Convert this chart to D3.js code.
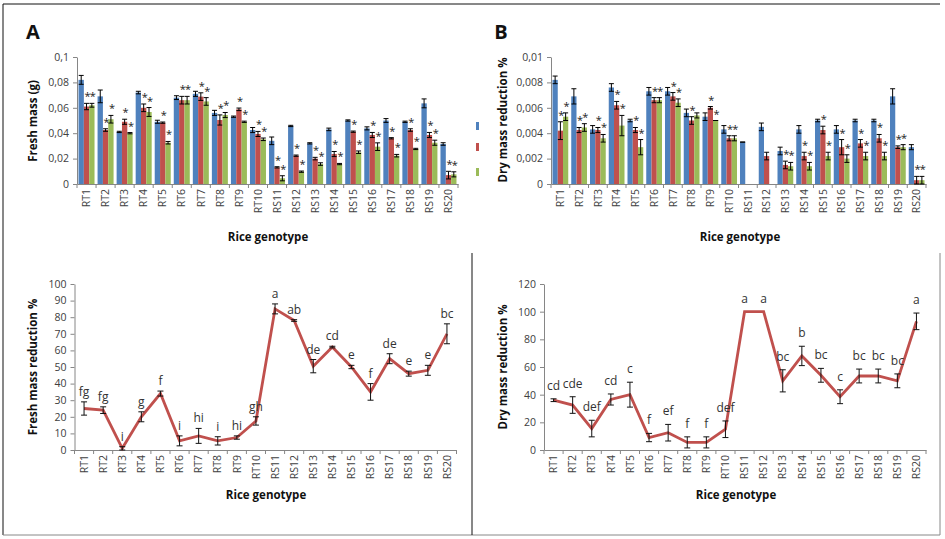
<!DOCTYPE html>
<html>
<head>
<meta charset="utf-8">
<script src="https://cdn.jsdelivr.net/npm/d3@7"></script>
<style>
  body { margin: 0; background: #fff; }
  svg { display: block; font-family: "Open Sans", sans-serif; }
</style>
</head>
<body>
<svg id="fig" width="945" height="539"></svg>
<script>
"use strict";

const genotypes = ["RT1","RT2","RT3","RT4","RT5","RT6","RT7","RT8","RT9","RT10",
                   "RS11","RS12","RS13","RS14","RS15","RS16","RS17","RS18","RS19","RS20"];

// panel A - fresh mass (g)
const freshBlue     = [0.082,0.069,0.041,0.072,0.049,0.068,0.071,0.056,0.053,0.0425,0.034,0.0457,0.032,0.043,0.050,0.0438,0.050,0.049,0.0635,0.0315];
const freshBlueErr  = [0.0035,0.005,0.0005,0.001,0.0012,0.0015,0.002,0.002,0.0005,0.002,0.003,0.0005,0.0005,0.001,0.0005,0.0012,0.0015,0.0005,0.0035,0.001];
const freshRed      = [0.061,0.0425,0.049,0.060,0.0483,0.066,0.0688,0.0504,0.0588,0.0394,0.0131,0.0223,0.020,0.0236,0.0412,0.0386,0.036,0.0425,0.0386,0.007];
const freshRedErr   = [0.0025,0.001,0.002,0.003,0.0005,0.003,0.003,0.004,0.001,0.002,0.0005,0.0005,0.001,0.002,0.0005,0.002,0.0005,0.001,0.002,0.003];
const freshGreen    = [0.062,0.051,0.040,0.0567,0.0325,0.066,0.065,0.0543,0.049,0.0352,0.0045,0.0097,0.0157,0.0157,0.025,0.0294,0.0223,0.0276,0.0325,0.0076];
const freshGreenErr = [0.0015,0.003,0.0005,0.0035,0.001,0.003,0.003,0.002,0.0005,0.001,0.002,0.0005,0.001,0.0005,0.001,0.003,0.001,0.0005,0.002,0.002];
const freshRedSig   = ["*","*","*","*","*","*","*","*","*","*","*","*","*","*","*","*","*","*","*","*"];
const freshGreenSig = ["*","*","*","*","*","*","*","*","*","*","*","*","*","*","*","*","*","*","*","*"];

// panel B - dry mass
const dryBlue     = [0.0082,0.0069,0.0043,0.0076,0.0050,0.0073,0.0073,0.0056,0.0053,0.0043,0.0033,0.0045,0.0026,0.0043,0.0050,0.0043,0.0050,0.0050,0.0069,0.0029];
const dryBlueErr  = [0.0003,0.0006,0.0003,0.0003,0.0001,0.0003,0.0003,0.0003,0.0003,0.0003,0,0.0003,0.0003,0.0003,0.0001,0.0003,0.0001,0.0001,0.0006,0.0002];
const dryRed      = [0.0042,0.00425,0.00425,0.0062,0.00425,0.0066,0.0069,0.0050,0.0060,0.0036,0,0.0022,0.0015,0.0022,0.00425,0.0029,0.0032,0.0036,0.0029,0.0003];
const dryRedErr   = [0.0007,0.0002,0.0002,0.0003,0.0002,0.0002,0.0003,0.0003,0.0001,0.0002,0,0.0003,0.0003,0.0003,0.0003,0.0006,0.0003,0.0003,0.0001,0.0003];
const dryGreen    = [0.0053,0.00445,0.0036,0.0046,0.0029,0.0066,0.0064,0.0054,0.0050,0.0036,0,0,0.0014,0.0014,0.0022,0.0020,0.0022,0.0022,0.0029,0.0003];
const dryGreenErr = [0.0003,0.0003,0.0003,0.0008,0.0006,0.0002,0.0003,0.0002,0,0.0002,0,0,0.0003,0.0003,0.0003,0.0003,0.0003,0.0003,0.0002,0.0003];
const dryRedSig   = ["*","*","*","*","*","*","*","*","*","*","","","*","*","*","*","*","*","*","*"];
const dryGreenSig = ["*","*","*","*","*","*","*","","*","*","","","*","*","*","*","*","*","*","*"];

// bottom panels - reduction %
const freshReduction    = [25,24,1,20,34,5.5,8.5,5.5,7.5,17.5,85,78,50.5,62,50,35,55,46,48,70];
const freshReductionErr = [4,2,1,3,1.5,3,4.5,2.5,1,2.5,3,0.5,4,0.5,1,5,3,1.5,3,6];
const freshLetters      = ["fg","fg","i","g","f","i","hi","i","hi","gh","a","ab","de","cd","e","f","de","e","e","bc"];
const dryReduction      = [36,32.5,15.5,36.5,40,9,12.5,5.5,5.5,15,100,100,50,68,54,38.5,53.5,53.5,50,93];
const dryReductionErr   = [1,6,6,4,9,3,6,4,4,6,0,0,8,7,5,5,5,5,5,6];
const dryLetters        = ["cd","cde","def","cd","c","f","ef","f","f","def","a","a","bc","b","bc","c","bc","bc","bc","a"];

const massTicksA = [0,0.02,0.04,0.06,0.08,0.1];
const massTicksB = [0,0.002,0.004,0.006,0.008,0.01];
const freshPctTicks = [0,10,20,30,40,50,60,70,80,90,100];
const dryPctTicks = [0,20,40,60,80,100,120];

const colors = ['#4F81BD', '#C0504D', '#9BBB59'];
const axisGrey = '#868686';
const txt = '#404040';

const svg = d3.select('#fig');
const comma = d => d === 0 ? '0' : String(d).replace('.', ',');

// axes shared by every panel
function drawAxes(g, x, y, ticks, fmt) {
  let x0 = x.range()[0], x1 = x.range()[1], y0 = y.range()[0];

  let ya = g.append('g').attr('transform', `translate(${x0},0)`)
    .call(d3.axisLeft(y).tickValues(ticks).tickFormat(fmt).tickSize(4).tickPadding(4).tickSizeOuter(0));
  ya.select('.domain').attr('stroke', axisGrey);
  ya.selectAll('.tick line').attr('stroke', axisGrey);
  ya.selectAll('.tick text').attr('fill', txt).attr('font-size', 10.5).attr('font-family', '"Open Sans", sans-serif');

  let xa = g.append('g').attr('transform', `translate(0,${y0})`)
    .call(d3.axisBottom(x).tickSize(0).tickSizeOuter(0));
  xa.select('.domain').attr('stroke', axisGrey);
  xa.selectAll('.tick text')
    .attr('fill', txt).attr('font-size', 10.5).attr('font-family', '"Open Sans", sans-serif')
    .attr('transform', 'rotate(-90)')
    .attr('x', -5).attr('y', 0).attr('dy', '0.35em')
    .attr('text-anchor', 'end');

  // category boundary ticks
  g.append('g').selectAll('line')
    .data(d3.range(x.domain().length + 1))
    .join('line')
    .attr('x1', i => x0 + i * x.step()).attr('x2', i => x0 + i * x.step())
    .attr('y1', y0).attr('y2', y0 + 4)
    .attr('stroke', axisGrey);
  return [x0, x1];
}

function title(text, x, y, rot, size) {
  svg.append('text')
    .attr('transform', `translate(${x},${y})` + (rot ? ' rotate(-90)' : ''))
    .attr('text-anchor', 'middle')
    .attr('font-weight', 'bold')
    .attr('font-size', size || 11.5)
    .attr('fill', '#111')
    .text(text);
}

function barChart(cfg) {
  let g = svg.append('g');
  let x = d3.scaleBand().domain(genotypes).range(cfg.xr).padding(0);
  let y = d3.scaleLinear().domain(cfg.dom).range(cfg.yr);
  let inner = d3.scaleBand().domain([0, 1, 2]).range([x.step() * 0.08, x.step() * 0.92]).padding(0);

  drawAxes(g, x, y, cfg.ticks, comma);

  cfg.series.forEach((s, si) => {
    let sg = g.append('g');
    let cx = (d, i) => x(genotypes[i]) + inner(si) + inner.bandwidth() / 2;
    sg.selectAll('rect').data(s.v).join('rect')
      .attr('x', (d, i) => x(genotypes[i]) + inner(si))
      .attr('width', inner.bandwidth())
      .attr('y', d => y(d))
      .attr('height', d => y(0) - y(d))
      .attr('fill', colors[si]);

    let eb = sg.selectAll('g.err').data(s.v.map((d, i) => ({v: d, e: s.e[i], i})).filter(d => d.v > 0))
      .join('g').attr('class', 'err');
    eb.append('line')
      .attr('x1', d => cx(0, d.i)).attr('x2', d => cx(0, d.i))
      .attr('y1', d => y(d.v - d.e)).attr('y2', d => y(d.v + d.e));
    eb.append('line')
      .attr('x1', d => cx(0, d.i) - 2.5).attr('x2', d => cx(0, d.i) + 2.5)
      .attr('y1', d => y(d.v + d.e)).attr('y2', d => y(d.v + d.e));
    eb.append('line')
      .attr('x1', d => cx(0, d.i) - 2.5).attr('x2', d => cx(0, d.i) + 2.5)
      .attr('y1', d => y(d.v - d.e)).attr('y2', d => y(d.v - d.e));
    eb.selectAll('line').attr('stroke', '#000').attr('stroke-width', 1);

    if (s.sig) {
      sg.selectAll('text').data(s.sig).join('text')
        .attr('x', (d, i) => cx(0, i) + 1)
        .attr('y', (d, i) => y(s.v[i] + s.e[i]) - 3)
        .attr('text-anchor', 'middle')
        .attr('font-size', 11)
        .attr('fill', '#222')
        .text(d => d);
    }
  });
}

function lineChart(cfg) {
  let g = svg.append('g');
  let x = d3.scaleBand().domain(genotypes).range(cfg.xr).padding(0);
  let y = d3.scaleLinear().domain(cfg.dom).range(cfg.yr);
  let px = i => x(genotypes[i]) + x.bandwidth() / 2;

  drawAxes(g, x, y, cfg.ticks, d => d);

  g.append('path')
    .datum(cfg.v)
    .attr('d', d3.line().x((d, i) => px(i)).y(d => y(d)))
    .attr('fill', 'none')
    .attr('stroke', '#C0504D')
    .attr('stroke-width', 2.8)
    .attr('stroke-linejoin', 'miter');

  let eb = g.append('g').selectAll('g')
    .data(cfg.v.map((d, i) => ({v: d, e: cfg.e[i], i})).filter(d => d.e > 0))
    .join('g');
  eb.append('line')
    .attr('x1', d => px(d.i)).attr('x2', d => px(d.i))
    .attr('y1', d => y(d.v - d.e)).attr('y2', d => y(d.v + d.e));
  [1, -1].forEach(sgn => {
    eb.append('line')
      .attr('x1', d => px(d.i) - 3).attr('x2', d => px(d.i) + 3)
      .attr('y1', d => y(d.v + sgn * d.e)).attr('y2', d => y(d.v + sgn * d.e));
  });
  eb.selectAll('line').attr('stroke', '#111').attr('stroke-width', 1);

  g.append('g').selectAll('text').data(cfg.letters).join('text')
    .attr('x', (d, i) => px(i))
    .attr('y', (d, i) => y(cfg.v[i] + cfg.e[i]) - cfg.lift)
    .attr('text-anchor', 'middle')
    .attr('font-size', 12)
    .attr('fill', '#333')
    .text(d => d);
}

// --- panel A
barChart({
  xr: [77, 458], yr: [184, 57], dom: [0, 0.1], ticks: massTicksA,
  series: [
    {v: freshBlue, e: freshBlueErr},
    {v: freshRed, e: freshRedErr, sig: freshRedSig},
    {v: freshGreen, e: freshGreenErr, sig: freshGreenSig}
  ]
});
title('Fresh mass (g)', 37, 121, true);
title('Rice genotype', 268, 241);
title('A', 33, 39, false, 20);

// --- panel B
barChart({
  xr: [551, 926], yr: [184, 57], dom: [0, 0.01], ticks: massTicksB,
  series: [
    {v: dryBlue, e: dryBlueErr},
    {v: dryRed, e: dryRedErr, sig: dryRedSig},
    {v: dryGreen, e: dryGreenErr, sig: dryGreenSig}
  ]
});
title('Dry mass reduction %', 507, 120, true);
title('Rice genotype', 740, 241);
title('B', 501, 39, false, 20);

// legend markers (labels cut off in the source)
svg.append('g').selectAll('rect').data([126, 147, 172]).join('rect')
  .attr('x', 476).attr('y', d => d - 4).attr('width', 3).attr('height', 8)
  .attr('fill', (d, i) => colors[i]);

// --- bottom panels
lineChart({
  xr: [74.5, 456.5], yr: [450, 284], dom: [0, 100], ticks: freshPctTicks,
  v: freshReduction, e: freshReductionErr, letters: freshLetters, lift: 6
});
title('Fresh mass reduction %', 37, 367, true);
title('Rice genotype', 266, 499);

lineChart({
  xr: [544, 926], yr: [450, 284], dom: [0, 120], ticks: dryPctTicks,
  v: dryReduction, e: dryReductionErr, letters: dryLetters, lift: 9
});
title('Dry mass reduction %', 507, 367, true);
title('Rice genotype', 736, 499);

// frame
const frame = svg.append('g').attr('fill', 'none');
frame.append('path').attr('d', 'M3,535 V4 H940').attr('stroke', '#111');
frame.append('path').attr('d', 'M3,535 H940 V253').attr('stroke', '#888');
frame.append('line').attr('x1', 472).attr('x2', 472).attr('y1', 253).attr('y2', 535).attr('stroke', '#111');
</script>
</body>
</html>
